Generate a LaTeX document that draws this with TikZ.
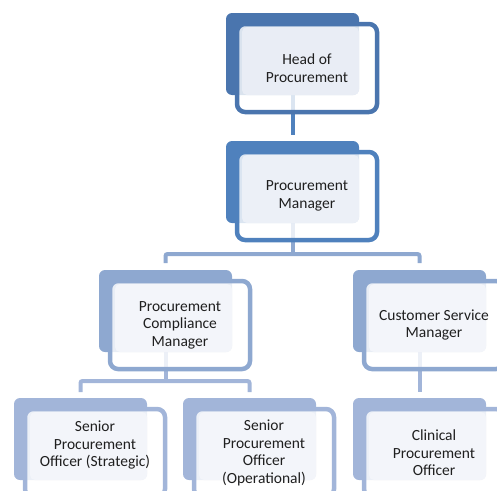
\documentclass[tikz,border=0pt]{standalone}
\usepackage{fontspec}
\setmainfont{Carlito}
\usepackage{tikz}
\usepackage{xcolor}
\usetikzlibrary{positioning,backgrounds}
\definecolor{lvl1}{HTML}{4A75AE}
\definecolor{lvl2}{HTML}{4F81BD}
\definecolor{lvl3}{HTML}{8EA8D0}
\definecolor{lvl4}{HTML}{A2B5D9}
\definecolor{pale1}{HTML}{E9EDF5}
\definecolor{pale2}{HTML}{ECF0F7}
\definecolor{pale3}{HTML}{F3F5FA}
\tikzset{
    back-box/.style = {rectangle, rounded corners=6pt, minimum width=133pt, minimum height=82pt, inner sep=0pt, outer sep=0pt, anchor=north west},
    frame-box/.style = {draw, line width=4.5pt, fill=white, fill opacity=0.8, rectangle, rounded corners=8pt, minimum width=140pt, minimum height=88pt, inner sep=0pt, outer sep=0pt},
    fill-box/.style = {rectangle, rounded corners=5pt, minimum width=117pt, minimum height=68pt, inner sep=0pt, outer sep=0pt, anchor=south east},
    unit-text/.style = {align=center, font=\fontsize{15.5}{17.5}\selectfont, text=black!88},
    link/.style = {line width=4pt},
}

\begin{document}
\begin{tikzpicture}[x=1pt, y=-1pt]
\clip (0,0) rectangle (497,490);

% head of procurement
\node[back-box, fill=lvl1] (head-back) at (226,13) {};
\node[frame-box, draw=lvl1, below right=11pt and 11pt of head-back.north west] (head-frame) {};
\node[fill-box, fill=pale1] (head-fill) at (head-back.south east) {};
\node[unit-text] (head) at (head-frame.center) {Head of\\Procurement};

% procurement manager
\node[back-box, fill=lvl2] (manager-back) at (226,141) {};
\node[frame-box, draw=lvl2, below right=11pt and 11pt of manager-back.north west] (manager-frame) {};
\node[fill-box, fill=pale2] (manager-fill) at (manager-back.south east) {};
\node[unit-text] (manager) at (manager-frame.center) {Procurement\\Manager};

% third row
\node[back-box, fill=lvl3] (pcm-back) at (99,270) {};
\node[frame-box, draw=lvl3, below right=11pt and 11pt of pcm-back.north west] (pcm-frame) {};
\node[fill-box, fill=pale3] (pcm-fill) at (pcm-back.south east) {};
\node[unit-text] (pcm) at (pcm-frame.center) {Procurement\\Compliance\\Manager};

\node[back-box, fill=lvl3] (csm-back) at (353,270) {};
\node[frame-box, draw=lvl3, below right=11pt and 11pt of csm-back.north west] (csm-frame) {};
\node[fill-box, fill=pale3] (csm-fill) at (csm-back.south east) {};
\node[unit-text] (csm) at (csm-frame.center) {Customer Service\\Manager};

% fourth row
\node[back-box, fill=lvl4] (sps-back) at (14,398) {};
\node[frame-box, draw=lvl4, below right=11pt and 11pt of sps-back.north west] (sps-frame) {};
\node[fill-box, fill=pale3] (sps-fill) at (sps-back.south east) {};
\node[unit-text, yshift=8pt] (sps) at (sps-frame.center) {Senior\\Procurement\\Officer (Strategic)};

\node[back-box, fill=lvl4] (spo-back) at (183,398) {};
\node[frame-box, draw=lvl4, below right=11pt and 11pt of spo-back.north west] (spo-frame) {};
\node[fill-box, fill=pale3] (spo-fill) at (spo-back.south east) {};
\node[unit-text] (spo) at (spo-frame.center) {Senior\\Procurement\\Officer\\(Operational)};

\node[back-box, fill=lvl4] (cpo-back) at (353,398) {};
\node[frame-box, draw=lvl4, below right=11pt and 11pt of cpo-back.north west] (cpo-frame) {};
\node[fill-box, fill=pale3] (cpo-fill) at (cpo-back.south east) {};
\node[unit-text] (cpo) at (cpo-frame.center) {Clinical\\Procurement\\Officer};

% connectors
\begin{scope}[on background layer]
\draw[link, draw=lvl2, shorten >=6pt] (head-back.south) -- (manager-back.north);
\draw[link, draw=lvl3] (manager-back.south) -- ++(0,31) coordinate (manager-fork);
\draw[link, draw=lvl3, rounded corners=2pt, shorten <=7pt, shorten >=7pt] (pcm-back.north) |- (manager-fork) -| (csm-back.north);
\draw[link, draw=lvl4] (pcm-back.south) -- ++(0,29) coordinate (pcm-fork);
\draw[link, draw=lvl4, rounded corners=2pt, shorten <=6pt, shorten >=6pt] (sps-back.north) |- (pcm-fork) -| (spo-back.north);
\draw[link, draw=lvl4, shorten >=6pt] (csm-back.south) -- (cpo-back.north);
\end{scope}
\end{tikzpicture}
\end{document}
